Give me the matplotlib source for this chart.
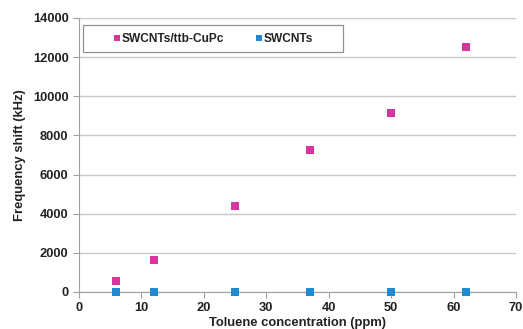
import matplotlib.pyplot as plt
from matplotlib.patches import Rectangle

# Data
toluene_ppm = [6, 12, 25, 37, 50, 62]
shift_cupc = [560, 1650, 4380, 7280, 9150, 12500]
shift_swcnt = [0, 0, 0, 0, 0, 0]

plt.rcParams['font.family'] = ['Liberation Sans', 'DejaVu Sans']
plt.rcParams['font.weight'] = 'bold'

fig = plt.figure(figsize=(5.23, 3.29), dpi=100)
ax = fig.add_axes([79 / 523, 1 - 292 / 329, (516 - 79) / 523, (292 - 18) / 329])

ax.scatter(toluene_ppm, shift_cupc, marker='s', s=26, color='#D6379E',
           label='SWCNTs/ttb-CuPc', zorder=3, linewidths=0)
ax.scatter(toluene_ppm, shift_swcnt, marker='s', s=26, color='#1E8AD2',
           label='SWCNTs', zorder=3, linewidths=0, clip_on=False)

ax.set_xlim(0, 70)
ax.set_ylim(0, 14000)
ax.set_xticks(range(0, 71, 10))
ax.set_yticks(range(0, 14001, 2000))
ax.grid(True, axis='y', color='#c8c8c8', linewidth=1.0)
ax.set_axisbelow(True)

for side in ['top', 'right']:
    ax.spines[side].set_visible(False)
for side in ['left', 'bottom']:
    ax.spines[side].set_color('#a0a0a0')
ax.tick_params(axis='both', colors='#a0a0a0', labelcolor='#222222',
               labelsize=9.3, length=4)
ax.tick_params(axis='x', pad=3)

ax.set_xlabel('Toluene concentration (ppm)', fontsize=9.4, fontweight='bold',
              color='#222222', labelpad=2.5)
ax.set_ylabel('Frequency shift (kHz)', fontsize=9.4, fontweight='bold',
              color='#222222', labelpad=5)

# legend frame drawn as its own box, entries centred inside it
box = Rectangle((4 / 437, 1 - 34 / 274), 260 / 437, 27 / 274, transform=ax.transAxes,
                facecolor='white', edgecolor='#909090', linewidth=0.9, zorder=4)
ax.add_patch(box)
leg = ax.legend(loc='center', bbox_to_anchor=(134 / 437, 1 - 20.5 / 274),
                ncol=2, fontsize=8.6, frameon=False,
                handletextpad=0.05, handlelength=0.7, borderaxespad=0,
                markerscale=0.75, columnspacing=2.6)
leg.set_zorder(5)
for t in leg.get_texts():
    t.set_color('#222222')

fig.savefig('out.png', dpi=100)
